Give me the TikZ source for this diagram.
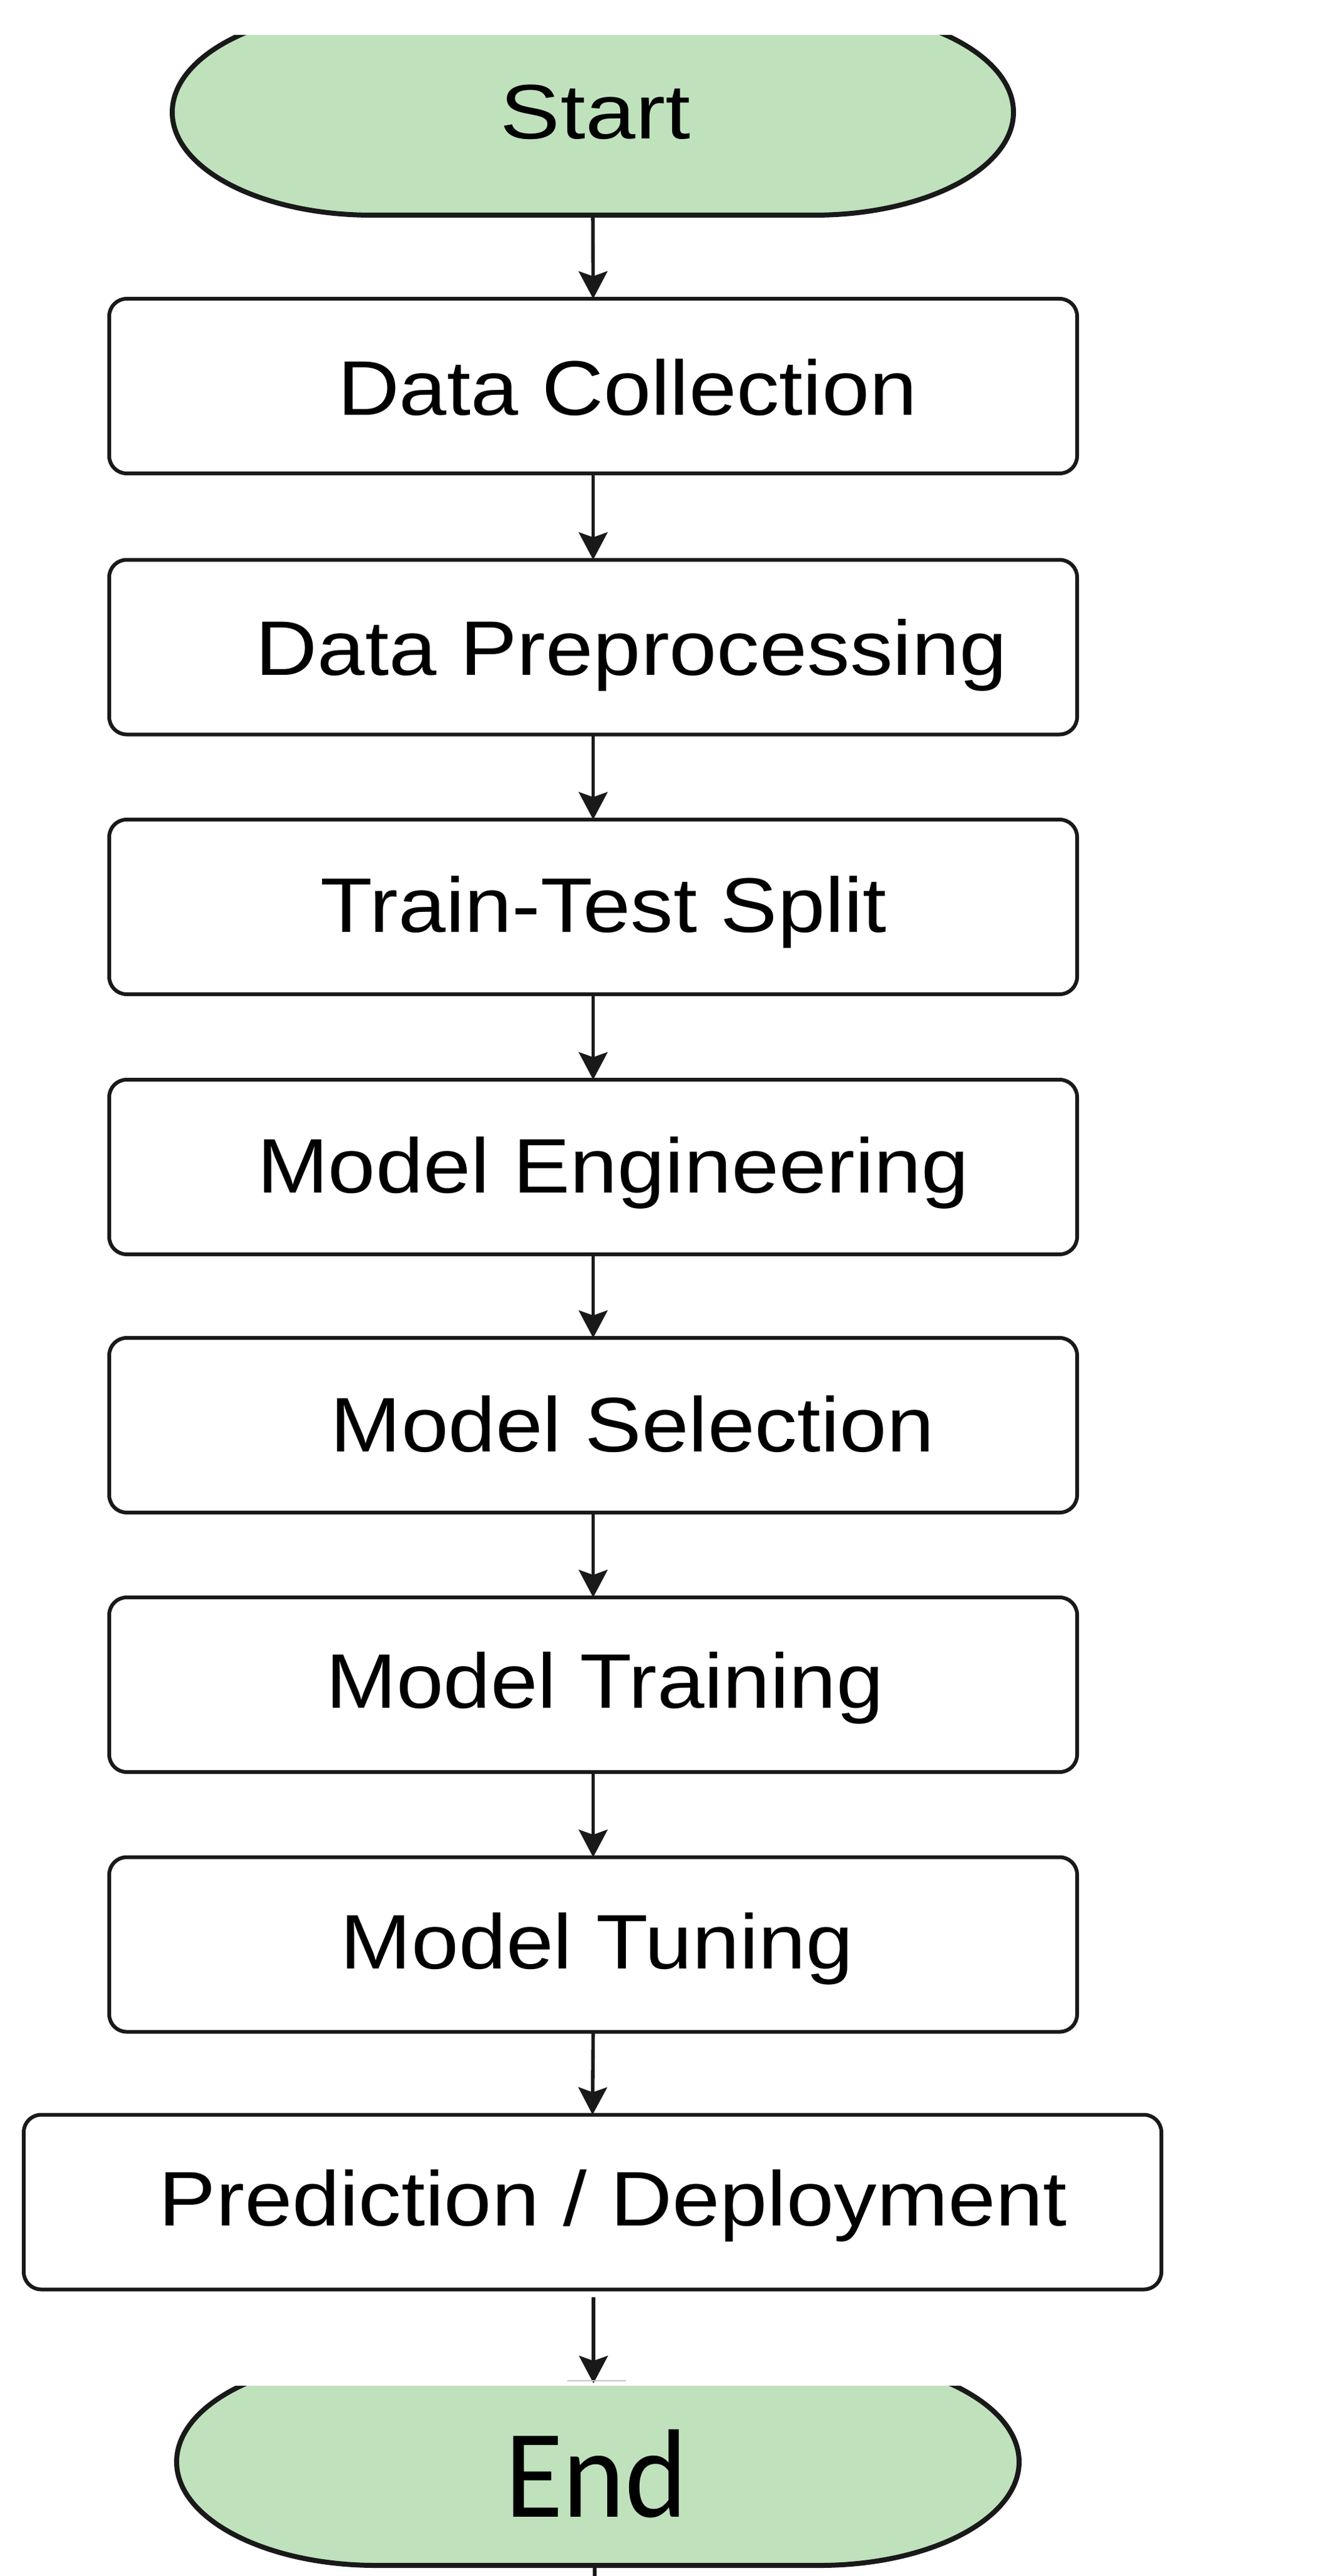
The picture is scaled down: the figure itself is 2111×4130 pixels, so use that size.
\documentclass[tikz,border=0pt]{standalone}
\usepackage{fontspec}
\setmainfont{Liberation Sans}
\newfontfamily\endfont{Carlito}
\usepackage{graphicx}
\usetikzlibrary{arrows.meta}
\definecolor{termgreen}{RGB}{191,226,189}
\definecolor{ink}{RGB}{25,25,25}
\tikzset{
  stepbox/.style={draw=ink, line width=1.5pt, rounded corners=7pt, fill=white,
    minimum width=387.75pt, minimum height=70pt, inner sep=0pt, outer sep=0pt},
  termshape/.style={draw=ink, line width=2pt, fill=termgreen},
  termanchor/.style={minimum width=337pt, minimum height=82.5pt, inner sep=0pt, outer sep=0pt},
  lbl/.style={anchor=base, inner sep=0pt, font=\fontsize{31}{36}\selectfont},
  endlbl/.style={anchor=base, inner sep=0pt, font=\endfont\fontsize{50.5}{60}\selectfont},
  flow/.style={draw=ink, line width=1.4pt, -{Stealth[length=11pt, width=11.5pt, inset=2pt]}},
  plainline/.style={draw=ink, line width=1.4pt},
}
\begin{document}
\begin{tikzpicture}[x=0.25pt, y=-0.25pt]
\useasboundingbox (0,0) rectangle (2111,4130);
\fill[white] (0,0) rectangle (2111,4130);

% Start terminal
\node[termanchor] (start) at (950,180) {};
\begin{scope}
  \clip (0,57) rectangle (2111,4130);
  \draw[termshape] (596,345) -- (1304,345)
    arc[start angle=90, end angle=-90, x radius=320, y radius=165]
    -- (596,15)
    arc[start angle=-90, end angle=-270, x radius=320, y radius=165] -- cycle;
\end{scope}
\node[lbl] (tstart) at (954,223) {\resizebox{76pt}{\height}{Start}};

% Process boxes
\node[stepbox] (dc) at (950.5,619) {};
\node[stepbox] (dp) at (950.5,1037.5) {};
\node[stepbox] (tts) at (950.5,1454) {};
\node[stepbox] (me) at (950.5,1871) {};
\node[stepbox] (ms) at (950.5,2285) {};
\node[stepbox] (mtr) at (950.5,2701) {};
\node[stepbox] (mtu) at (950.5,3117.5) {};
\node[stepbox, minimum width=455.75pt] (pd) at (949.5,3530.5) {};

\node[lbl] (tdc) at (1005.5,666) {\resizebox{232.25pt}{\height}{Data Collection}};
\node[lbl] (tdp) at (1012,1082) {\resizebox{301pt}{\height}{Data Preprocessing}};
\node[lbl] (ttts) at (967.5,1494) {\resizebox{226.75pt}{\height}{Train-Test Split}};
\node[lbl] (tme) at (982.5,1912) {\resizebox{285.25pt}{\height}{Model Engineering}};
\node[lbl] (tms) at (1013.5,2327) {\resizebox{241.75pt}{\height}{Model Selection}};
\node[lbl] (tmtr) at (969,2738) {\resizebox{223.5pt}{\height}{Model Training}};
\node[lbl] (tmtu) at (956.5,3156) {\resizebox{205.25pt}{\height}{Model Tuning}};
\node[lbl] (tpd) at (982.5,3568) {\resizebox{363.75pt}{\height}{Prediction / Deployment}};

% End terminal
\node[termanchor, minimum width=337.5pt, minimum height=83pt] (end) at (958,3947) {};
\begin{scope}
  \clip (0,3825) rectangle (2111,4130);
  \draw[termshape] (603,4113) -- (1313,4113)
    arc[start angle=90, end angle=-90, x radius=320, y radius=166]
    -- (603,3781)
    arc[start angle=-90, end angle=-270, x radius=320, y radius=166] -- cycle;
\end{scope}
\node[endlbl] (tend) at (955.5,4035) {\resizebox{73.25pt}{\height}{End}};

% Connectors
\draw[flow] (start.south) -- (dc.north);
\draw[flow] (dc.south) -- (dp.north);
\draw[flow] (dp.south) -- (tts.north);
\draw[flow] (tts.south) -- (me.north);
\draw[flow] (me.south) -- (ms.north);
\draw[flow] (ms.south) -- (mtr.north);
\draw[flow] (mtr.south) -- (mtu.north);
\draw[flow] (mtu.south) -- (pd.north);
\coordinate (endtop) at (951,3821);
\draw[flow, shorten <=3pt] (pd.south -| endtop) -- (endtop);
\draw[gray!45, line width=0.6pt] (909,3817) -- (1003,3817);
\coordinate (endout) at (953,4130);
\draw[plainline] (end.south -| endout) -- (endout);
\end{tikzpicture}
\end{document}
